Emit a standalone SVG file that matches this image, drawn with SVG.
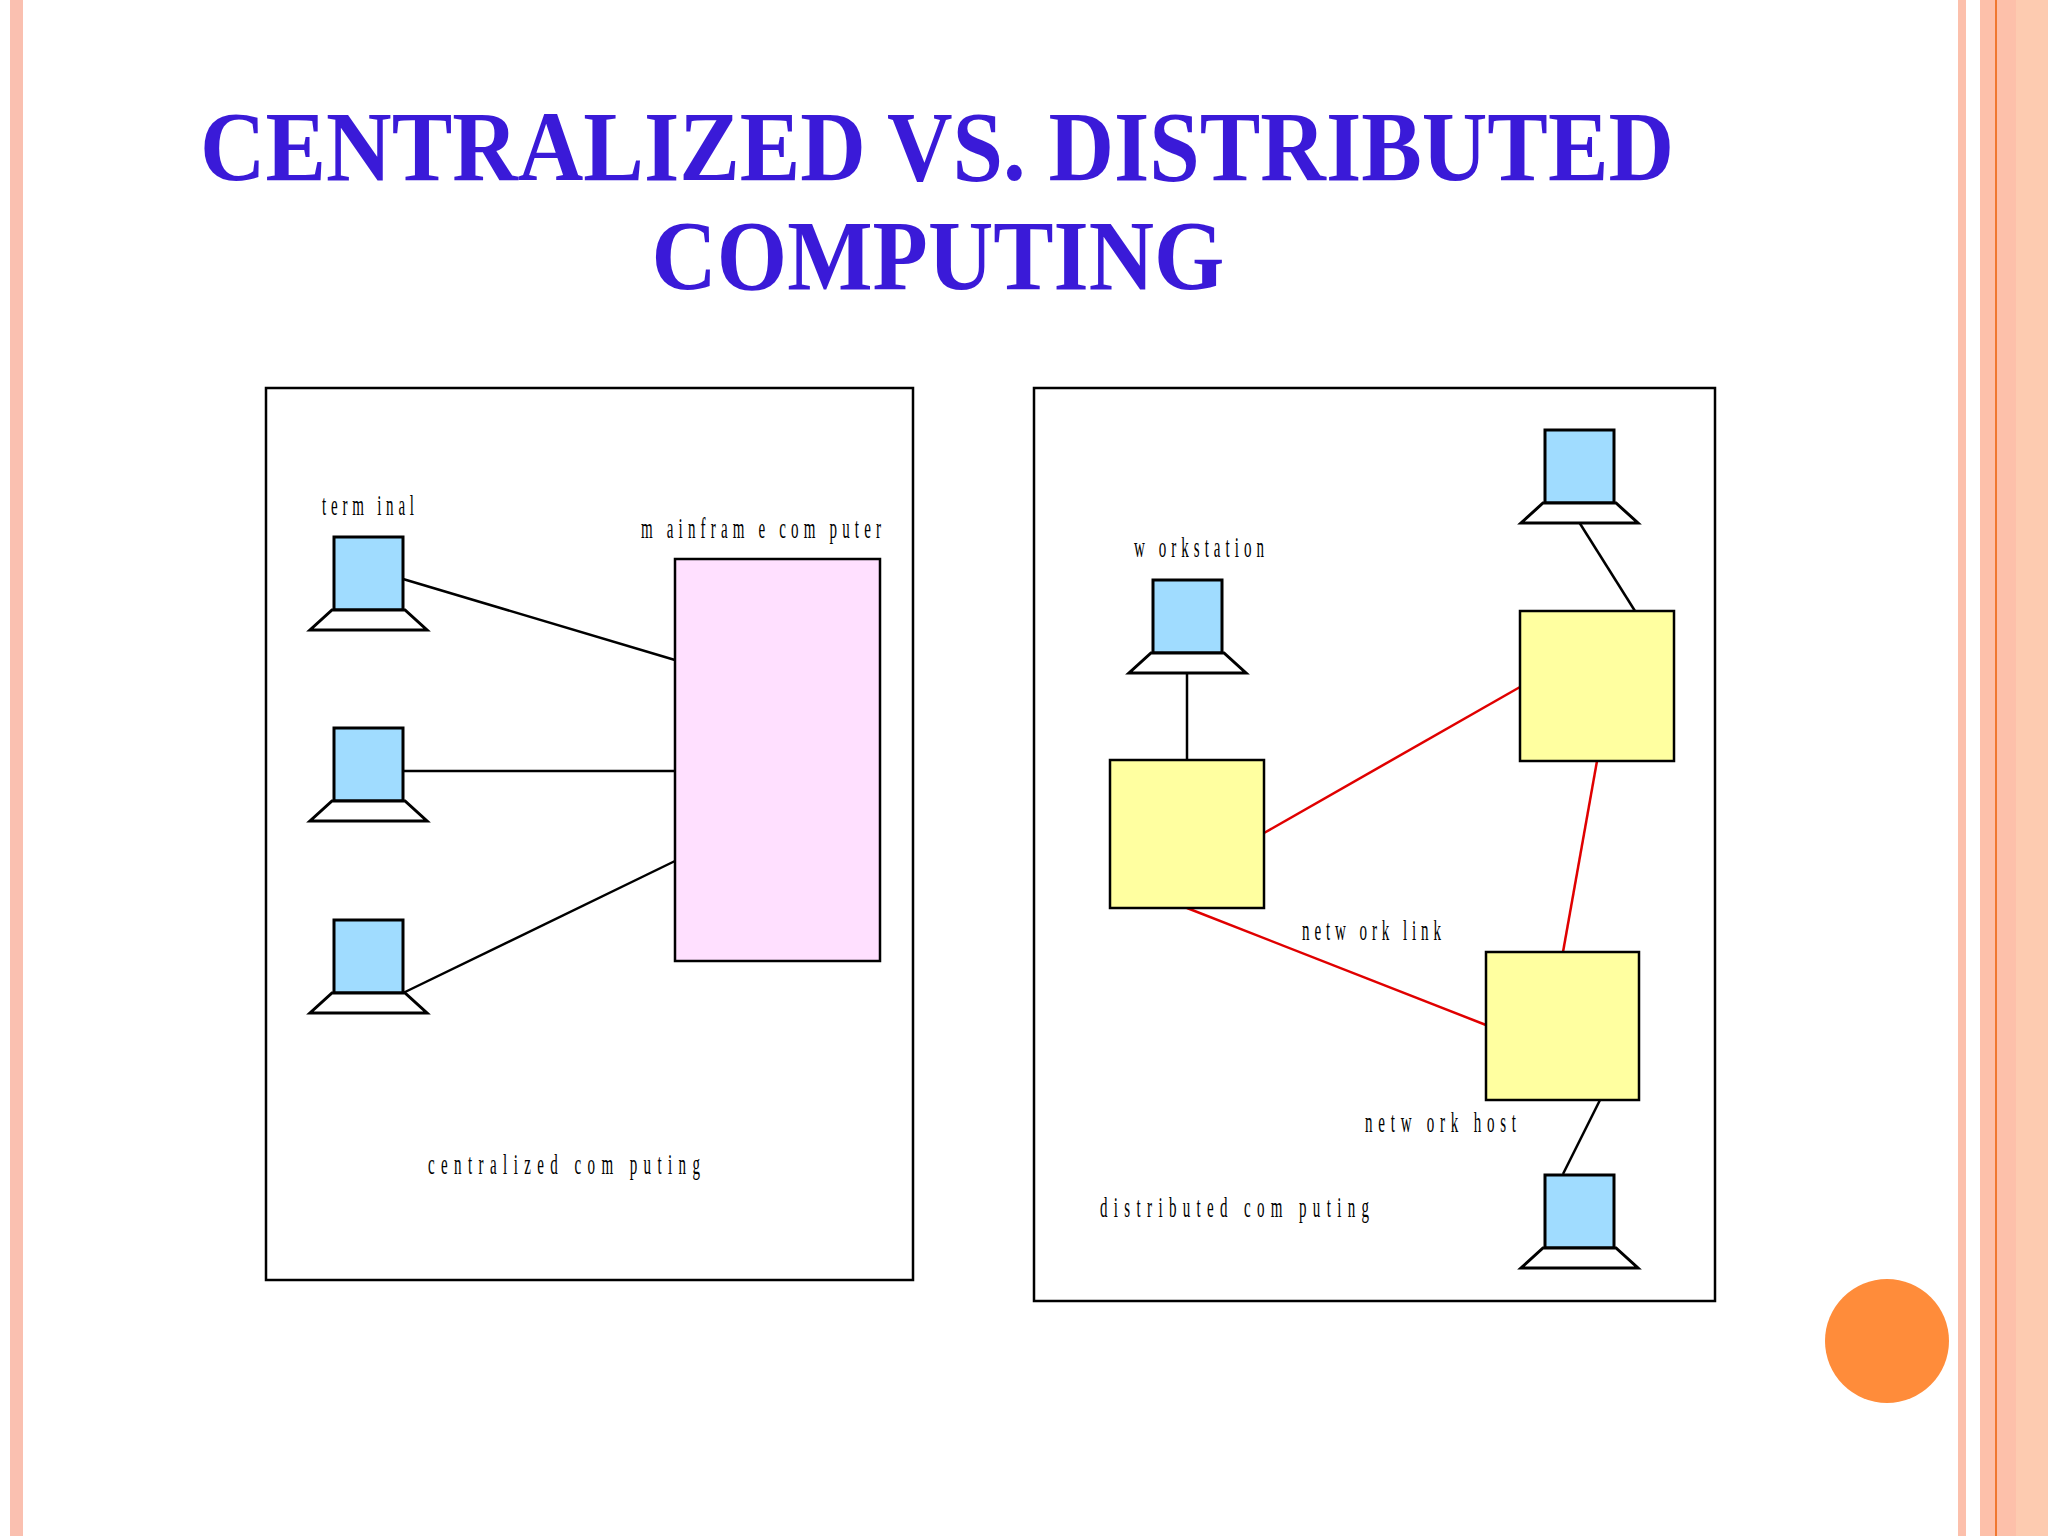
<svg xmlns="http://www.w3.org/2000/svg" width="2048" height="1536" viewBox="0 0 2048 1536">
<style>
.lbl{font-family:"Liberation Serif",serif;font-size:30px;fill:#000}
.mon{fill:#A0DCFF;stroke:#000;stroke-width:3}
.base{fill:#fff;stroke:#000;stroke-width:3}
.host{fill:#FFFFA0;stroke:#000;stroke-width:2.5}
.k{stroke:#000;stroke-width:2.5;fill:none}
.r{stroke:#E00000;stroke-width:2.5;fill:none}
.frame{fill:#fff;stroke:#000;stroke-width:2.5}
.title{font-family:"Liberation Serif",serif;font-weight:bold;font-size:100px;fill:#3A1AD8}
</style>
<defs>
<g id="term"><rect class="mon" x="0" y="0" width="69" height="73"/><polygon class="base" points="-2,73 71,73 93,93 -24,93"/></g>
</defs>
<rect width="2048" height="1536" fill="#fff"/>
<rect x="10" y="0" width="13" height="1536" fill="#FAC0B0"/>
<rect x="1958" y="0" width="8" height="1536" fill="#FCC0AC"/>
<rect x="1980" y="0" width="36" height="1536" fill="#FDC0AA"/>
<rect x="2016" y="0" width="32" height="1536" fill="#FDCBB0"/>
<rect x="1995" y="0" width="2" height="1536" fill="#F07830"/>
<g id="title">
<text class="title" x="937" y="180" text-anchor="middle" textLength="1474" lengthAdjust="spacingAndGlyphs">CENTRALIZED VS. DISTRIBUTED</text>
<text class="title" x="938" y="289" text-anchor="middle" textLength="573" lengthAdjust="spacingAndGlyphs">COMPUTING</text>
</g>
<rect class="frame" x="266" y="388" width="647" height="892"/>
<rect class="frame" x="1034" y="388" width="681" height="913"/>
<g id="connectors">
<line class="k" x1="403" y1="579" x2="675" y2="660"/>
<line class="k" x1="403" y1="771" x2="675" y2="771"/>
<line class="k" x1="403" y1="993" x2="675" y2="861"/>
<line class="k" x1="1187" y1="673" x2="1187" y2="760"/>
<line class="k" x1="1579" y1="522" x2="1635" y2="611"/>
<line class="k" x1="1600" y1="1100" x2="1563" y2="1174"/>
<line class="r" x1="1264" y1="833" x2="1520" y2="687"/>
<line class="r" x1="1597" y1="761" x2="1563" y2="952"/>
<line class="r" x1="1187" y1="908" x2="1486" y2="1025"/>
</g>
<g id="mainframe"><rect x="675" y="559" width="205" height="402" fill="#FFE0FF" stroke="#000" stroke-width="2.5"/>
<text class="lbl" transform="scale(0.5,1)" x="1282" y="538" textLength="480" lengthAdjust="spacing">m ainfram e com puter</text></g>
<g id="terminal1"><use href="#term" x="334" y="537"/><text class="lbl" transform="scale(0.5,1)" x="644" y="515" textLength="184" lengthAdjust="spacing">term inal</text></g>
<g id="terminal2"><use href="#term" x="334" y="728"/></g>
<g id="terminal3"><use href="#term" x="334" y="920"/></g>
<text class="lbl" transform="scale(0.5,1)" x="856" y="1174" textLength="544" lengthAdjust="spacing">centralized com puting</text>
<g id="hostA"><rect class="host" x="1110" y="760" width="154" height="148"/></g>
<g id="hostB"><rect class="host" x="1520" y="611" width="154" height="150"/></g>
<g id="hostC"><rect class="host" x="1486" y="952" width="153" height="148"/></g>
<g id="ws1"><use href="#term" x="1153" y="580"/><text class="lbl" transform="scale(0.5,1)" x="2268" y="557" textLength="260" lengthAdjust="spacing">w orkstation</text></g>
<g id="ws2"><use href="#term" x="1545" y="430"/></g>
<g id="ws3"><use href="#term" x="1545" y="1175"/></g>
<text class="lbl" transform="scale(0.5,1)" x="2604" y="940" textLength="278" lengthAdjust="spacing">netw ork link</text>
<text class="lbl" transform="scale(0.5,1)" x="2730" y="1132" textLength="302" lengthAdjust="spacing">netw ork host</text>
<text class="lbl" transform="scale(0.5,1)" x="2200" y="1217" textLength="538" lengthAdjust="spacing">distributed com puting</text>
<circle cx="1887" cy="1341" r="62" fill="#FF8C3A"/>
</svg>
